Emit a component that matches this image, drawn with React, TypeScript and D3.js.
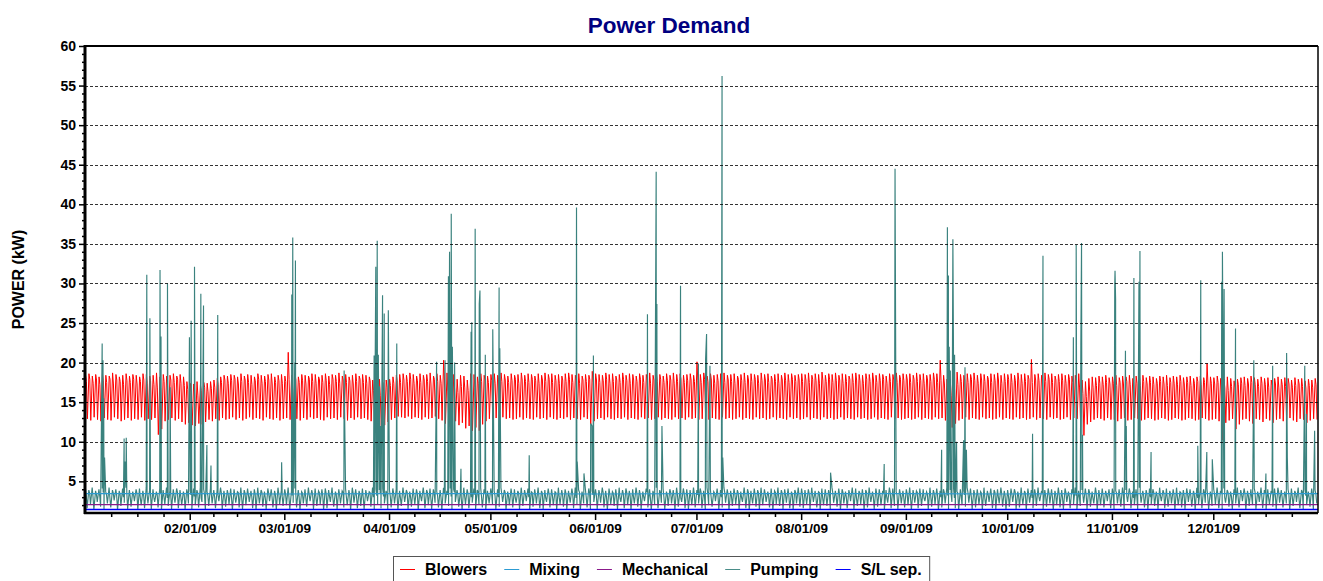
import React, { useEffect, useRef } from 'react';
import * as d3 from 'd3';

// Blowers: daily high / plateau / low readings (kW), Jan 1 2009 .. Dec 31 2009
const blowersHigh = [
  18.4,18.6,18.3,18.5,18.2,18.6,18.4,18.3,18.7,18.5,18.2,18.4,18.6,18.3,18.5,18.4,18.2,18.6,18.5,18.3,18.4,18.7,18.2,18.5,18.3,18.4,18.6,18.3,18.5,18.2,17.6,
  17.4,17.3,17.6,17.2,17.5,17.4,17.6,17.8,18.0,18.2,18.4,18.3,18.5,18.4,18.2,18.6,18.3,18.5,18.4,18.2,18.6,18.4,18.3,18.5,18.6,18.2,18.4,18.5,
  18.3,21.3,18.4,18.6,18.2,18.5,18.4,18.3,18.6,18.5,18.2,18.4,18.6,18.3,18.5,18.4,18.7,18.3,18.5,18.2,18.4,18.6,18.3,18.5,18.4,18.2,17.8,17.6,17.9,17.5,17.8,
  17.9,18.2,18.4,18.5,18.6,18.4,18.7,18.5,18.3,18.6,18.4,18.5,18.7,18.3,18.6,18.4,20.3,18.7,18.2,18.5,17.9,18.4,18.3,17.8,18.6,18.5,18.2,18.6,18.4,18.3,
  18.5,18.6,18.4,18.7,18.5,18.3,18.6,18.4,18.5,18.7,18.4,18.6,18.5,18.3,18.6,18.4,18.7,18.5,18.6,18.4,18.5,18.3,18.6,18.7,18.5,18.4,18.6,18.3,18.5,18.4,18.9,
  18.6,18.5,18.4,18.7,18.5,18.6,18.3,18.5,18.7,18.4,18.6,18.5,18.3,18.6,18.4,18.5,18.7,18.4,18.6,18.5,18.3,18.6,18.4,18.7,18.5,18.6,18.4,18.5,18.6,18.4,
  20.1,18.5,18.7,18.3,18.6,18.4,18.5,18.6,18.7,18.4,18.5,18.6,18.3,18.5,18.7,18.4,18.6,18.5,18.4,18.7,18.5,18.6,18.3,18.5,18.6,18.4,18.7,18.5,18.6,18.4,18.5,
  18.6,18.5,18.7,18.4,18.6,18.5,18.8,18.4,18.6,18.5,18.7,18.4,18.6,18.5,18.3,18.6,18.7,18.5,18.4,18.6,18.5,18.7,18.4,18.6,18.5,18.3,18.6,18.5,18.7,18.4,18.6,
  18.5,18.6,18.4,18.7,18.5,18.6,18.4,18.5,18.7,18.6,20.3,18.4,17.9,17.6,18.2,18.8,18.5,18.4,18.6,18.5,18.7,18.4,18.6,18.5,18.3,18.6,18.5,18.7,18.4,18.6,
  18.5,18.6,18.4,18.7,18.5,18.6,18.4,20.4,18.5,18.6,18.4,18.7,18.5,18.6,18.3,18.5,18.6,18.4,18.5,18.3,18.4,18.6,17.8,17.6,18.0,18.2,18.1,18.3,18.2,18.4,18.1,
  18.2,18.4,18.1,18.3,18.2,18.4,18.0,18.3,18.2,18.4,18.1,18.3,18.2,18.0,18.3,18.2,18.4,18.1,18.3,18.2,18.4,18.1,18.2,18.3,18.0,18.2,18.3,18.1,19.9,18.2,
  18.1,18.3,18.0,17.9,18.2,18.0,17.7,17.9,18.1,18.2,18.0,18.3,18.1,17.9,18.2,18.0,18.1,17.8,18.0,18.2,17.9,18.1,18.0,17.8,18.1,17.9,18.0,17.7,17.9,17.8,18.0,
];

const blowersMid = [
  17.6,17.9,17.4,17.8,17.2,17.7,17.5,17.9,17.3,17.8,17.6,17.2,17.7,17.5,17.9,17.3,17.6,17.8,17.4,17.7,17.2,16.8,16.5,17.6,17.3,17.8,17.5,17.9,17.4,17.1,16.6,
  16.2,16.8,15.9,16.5,16.9,16.3,16.7,16.9,17.2,17.5,17.8,17.4,17.7,17.9,17.3,17.6,17.8,17.5,17.2,17.7,17.9,17.4,17.6,17.8,17.3,17.5,17.7,17.4,
  17.6,17.9,17.4,17.8,17.5,17.7,17.3,17.9,17.6,17.4,17.8,17.5,17.7,17.2,17.9,17.6,17.4,17.8,17.5,17.7,17.3,17.6,17.9,17.5,17.4,17.7,16.5,16.2,15.8,16.4,16.9,
  17.1,17.4,17.7,17.5,17.8,17.6,17.9,17.4,17.7,17.5,17.8,17.6,17.3,17.9,17.6,17.4,17.8,16.4,15.9,16.6,16.2,17.0,16.8,16.5,17.2,16.9,17.4,17.6,17.8,17.5,
  17.7,17.4,17.9,17.6,17.8,17.5,17.7,17.9,17.4,17.8,17.6,17.5,17.9,17.7,17.4,17.8,17.6,17.9,17.5,17.7,17.4,17.8,17.6,17.9,17.5,17.7,17.4,17.8,17.6,17.9,17.5,
  17.8,17.5,17.7,17.9,17.4,17.6,17.8,17.5,17.9,17.7,17.4,17.8,17.6,17.9,17.5,17.7,17.4,17.8,17.6,17.9,17.5,17.7,17.8,17.4,17.6,17.9,17.5,17.7,17.8,17.6,
  17.7,17.5,17.9,17.6,17.8,17.4,17.7,17.9,17.5,17.8,17.6,17.4,17.9,17.7,17.5,17.8,17.6,17.9,17.4,17.7,17.8,17.5,17.9,17.6,17.4,17.8,17.7,17.5,17.9,17.6,17.8,
  17.6,17.8,17.5,17.9,17.7,17.4,17.8,17.6,17.9,17.5,17.7,17.8,17.4,17.6,17.9,17.5,17.8,17.7,17.4,17.9,17.6,17.8,17.5,17.7,17.9,17.4,17.6,17.8,17.5,17.9,17.7,
  17.8,17.5,17.9,17.6,17.7,17.4,17.8,17.6,17.9,17.5,17.7,17.3,16.2,15.8,16.6,17.2,17.6,17.8,17.5,17.9,17.7,17.4,17.8,17.6,17.9,17.5,17.7,17.8,17.4,17.6,
  17.9,17.5,17.7,17.8,17.4,17.6,17.9,17.5,17.8,17.7,17.4,17.6,17.9,17.5,17.8,17.6,17.7,17.4,17.9,17.5,17.2,16.8,16.1,15.7,16.4,16.9,17.1,17.4,17.2,17.5,17.3,
  17.4,17.1,17.5,17.3,17.6,17.2,17.5,17.4,17.1,17.6,17.3,17.5,17.2,17.4,17.6,17.3,17.1,17.5,17.4,17.2,17.6,17.3,17.5,17.1,17.4,17.6,17.2,17.5,17.3,17.4,
  17.3,17.5,17.1,16.8,16.5,17.0,16.8,17.2,17.4,17.1,17.3,17.5,17.2,17.0,17.4,17.2,16.9,17.1,17.3,16.8,17.2,17.0,17.3,16.9,17.1,17.3,17.0,16.8,17.1,16.9,17.2,
];

const blowersLow = [
  12.9,12.7,13.1,12.8,12.6,13.0,12.8,12.7,13.1,12.9,12.6,12.8,13.0,12.7,12.9,12.8,13.1,12.7,12.9,12.8,13.0,10.9,11.6,12.6,12.8,13.0,12.7,12.9,12.5,12.2,12.4,
  12.1,12.0,12.3,12.2,12.5,12.8,12.6,12.9,12.7,13.0,12.8,12.9,13.1,12.8,13.0,12.7,12.9,13.1,12.8,13.0,12.9,12.7,13.1,12.9,12.8,13.0,12.7,12.9,
  13.0,12.8,13.1,12.9,12.7,13.0,12.8,13.1,12.9,13.0,12.8,12.7,13.1,12.9,13.0,12.8,13.1,12.9,12.7,13.0,12.8,13.1,12.9,13.0,12.8,12.6,12.2,12.4,12.0,12.1,12.5,
  12.8,13.0,13.2,13.1,13.0,13.2,12.9,13.1,13.0,12.8,13.1,12.9,13.0,13.2,12.9,12.7,12.3,11.9,12.2,12.6,12.1,12.4,11.7,12.0,11.4,11.8,11.4,12.2,12.6,12.9,
  12.9,13.0,12.8,13.1,12.9,13.0,12.8,12.9,13.1,12.8,13.0,12.9,12.8,13.1,12.9,13.0,12.8,13.1,12.9,12.8,13.0,12.9,13.1,12.8,13.0,12.9,12.8,13.1,12.9,12.2,12.6,
  12.9,13.0,12.8,13.1,12.9,12.8,13.0,12.9,13.1,12.8,13.0,12.9,12.8,13.1,12.9,13.0,12.8,12.9,13.1,12.8,13.0,12.9,12.8,13.1,12.9,13.0,12.8,13.1,12.9,13.0,
  12.8,12.9,13.1,12.8,13.0,12.9,12.8,13.1,12.9,13.0,12.8,12.9,13.1,12.8,13.0,12.9,12.8,13.1,12.9,13.0,12.8,12.9,13.1,12.8,13.0,12.9,12.8,13.1,12.9,13.0,12.8,
  12.9,13.1,12.8,13.0,12.9,12.8,13.1,12.9,13.0,12.8,12.9,13.1,12.8,13.0,12.9,12.8,13.1,12.9,13.0,12.8,12.9,13.1,12.8,13.0,12.9,12.8,13.1,12.9,13.0,12.8,12.9,
  13.0,12.8,12.9,13.1,12.8,13.0,12.9,12.8,13.1,12.9,13.0,12.7,12.0,11.8,12.3,12.7,12.9,13.1,12.8,13.0,12.9,12.8,13.1,12.9,13.0,12.8,12.9,13.1,12.8,13.0,
  12.9,12.8,13.1,12.9,13.0,12.8,12.9,13.1,12.8,13.0,12.9,12.8,13.1,12.9,13.0,12.8,12.9,13.1,12.8,13.0,12.9,12.6,10.8,12.2,12.5,12.8,13.0,12.9,12.7,13.0,12.8,
  12.8,12.6,12.9,13.0,12.7,12.8,13.0,12.9,12.7,12.8,13.0,12.9,12.7,12.8,13.0,12.9,12.7,12.8,13.0,12.9,12.7,12.8,13.0,12.9,12.7,12.8,13.0,12.9,12.7,12.8,
  12.9,12.6,10.2,12.4,12.7,12.9,11.6,12.2,12.8,12.9,12.6,12.3,12.9,12.8,12.5,12.9,12.7,12.4,12.8,12.9,12.6,12.8,13.0,12.7,12.5,12.9,12.8,12.4,12.7,12.9,12.8,
];

// Pumping: daily baseline high / mid / low readings (kW)
const pumpHigh = [
  4.1,3.9,4.2,3.8,4.0,4.1,3.7,4.2,3.9,4.0,3.8,4.1,4.2,3.9,3.7,4.0,4.1,3.8,4.2,3.9,4.0,3.7,4.1,3.9,4.2,3.8,4.0,4.1,3.9,3.7,4.0,
  3.8,4.1,3.9,4.2,4.0,3.7,4.1,3.9,4.0,4.2,3.8,3.9,4.1,4.0,3.7,4.2,3.9,4.1,3.8,4.0,4.2,3.9,3.7,4.1,4.0,3.8,4.2,3.9,
  4.0,4.2,3.8,4.1,3.9,3.7,4.0,4.2,3.9,4.1,3.8,4.0,4.1,3.9,4.2,3.7,4.0,3.8,4.1,3.9,4.2,4.0,3.8,4.1,3.9,3.7,4.2,4.0,3.9,4.1,3.8,
  3.9,4.1,4.0,3.8,4.2,3.9,3.7,4.1,4.0,3.8,4.2,3.9,4.1,4.0,3.7,3.9,4.2,3.8,4.1,4.0,3.9,3.7,4.2,4.0,3.8,4.1,3.9,4.2,4.0,3.8,
  4.1,3.8,4.0,4.2,3.9,3.7,4.1,4.0,3.8,4.2,3.9,4.1,3.7,4.0,4.2,3.8,3.9,4.1,4.0,3.7,4.2,3.9,4.0,3.8,4.1,4.2,3.9,3.7,4.0,4.1,3.8,
  4.0,3.9,4.2,3.8,4.1,3.7,4.0,4.2,3.9,4.1,3.8,4.0,4.2,3.9,3.7,4.1,4.0,3.8,4.2,3.9,4.1,3.7,4.0,3.9,4.2,3.8,4.1,4.0,3.9,4.2,
  3.9,4.1,3.8,4.2,4.0,3.7,4.1,3.9,4.2,4.0,3.8,4.1,3.9,3.7,4.2,4.0,3.8,4.1,3.9,4.2,4.0,3.7,4.1,3.8,4.2,3.9,4.0,4.1,3.7,3.9,4.2,
  4.1,3.9,4.0,4.2,3.8,3.7,4.1,4.0,3.9,4.2,3.8,4.1,4.0,3.7,3.9,4.2,4.1,3.8,4.0,3.9,4.2,3.7,4.1,4.0,3.8,3.9,4.2,4.1,3.7,4.0,3.8,
  4.0,4.2,3.9,3.8,4.1,4.0,3.7,4.2,3.9,4.1,3.8,4.0,4.2,3.9,4.1,3.7,4.0,3.8,4.2,4.1,3.9,4.0,3.7,4.2,3.8,4.1,3.9,4.0,4.2,3.8,
  3.9,4.1,4.0,3.7,4.2,3.8,4.1,3.9,4.0,4.2,3.7,3.9,4.1,4.0,3.8,4.2,3.9,4.1,3.7,4.0,4.2,3.8,3.9,4.1,4.0,3.7,4.2,3.9,4.1,3.8,4.0,
  4.1,3.8,4.0,4.2,3.9,4.1,3.7,4.0,4.2,3.8,3.9,4.1,4.0,3.7,4.2,3.9,4.1,3.8,4.0,4.2,3.7,3.9,4.1,4.0,3.8,4.2,3.9,4.0,4.1,3.7,
  4.0,4.2,3.8,4.1,3.9,3.7,4.0,4.2,3.9,4.1,3.8,4.0,4.1,3.7,4.2,3.9,4.0,3.8,4.1,4.2,3.9,3.7,4.0,4.1,3.8,4.2,3.9,4.0,3.7,4.1,3.9,
];

const pumpMid = [
  3.2,3.5,3.0,3.4,3.1,3.6,3.3,2.9,3.5,3.2,3.4,3.0,3.6,3.1,3.3,3.5,2.9,3.2,3.4,3.6,3.0,3.3,3.5,3.1,2.9,3.4,3.2,3.6,3.0,3.3,3.5,
  3.3,3.1,3.5,2.9,3.4,3.2,3.6,3.0,3.3,3.5,3.1,3.4,2.9,3.2,3.6,3.0,3.5,3.3,3.1,3.4,3.2,3.6,2.9,3.5,3.0,3.3,3.4,3.1,
  3.4,3.0,3.2,3.6,3.1,3.5,2.9,3.3,3.4,3.0,3.6,3.2,3.5,3.1,2.9,3.4,3.3,3.6,3.0,3.2,3.5,3.1,3.4,2.9,3.3,3.6,3.0,3.2,3.5,3.1,3.4,
  3.1,3.5,3.3,2.9,3.4,3.6,3.0,3.2,3.5,3.1,3.3,3.6,2.9,3.4,3.2,3.0,3.5,3.3,3.1,3.6,3.4,2.9,3.2,3.5,3.0,3.3,3.6,3.1,3.4,3.2,
  3.5,3.2,3.0,3.4,3.6,3.1,3.3,2.9,3.5,3.2,3.4,3.0,3.6,3.3,3.1,3.5,2.9,3.4,3.2,3.6,3.0,3.3,3.5,3.1,3.4,2.9,3.6,3.2,3.0,3.5,3.3,
  3.2,3.4,3.6,3.0,3.3,3.5,3.1,2.9,3.4,3.6,3.2,3.0,3.5,3.3,3.1,3.6,2.9,3.4,3.2,3.5,3.0,3.3,3.6,3.1,3.4,2.9,3.5,3.2,3.0,3.4,
  3.3,3.6,3.1,3.4,2.9,3.5,3.2,3.0,3.6,3.3,3.1,3.4,3.5,2.9,3.2,3.6,3.0,3.3,3.5,3.1,3.4,3.2,2.9,3.6,3.0,3.5,3.3,3.1,3.4,3.6,3.2,
  3.4,3.1,3.5,3.3,3.0,3.6,2.9,3.2,3.4,3.5,3.1,3.3,3.6,3.0,3.4,3.2,2.9,3.5,3.1,3.6,3.3,3.0,3.4,3.2,3.5,2.9,3.6,3.1,3.3,3.4,3.0,
  3.5,3.0,3.3,3.6,3.2,2.9,3.4,3.1,3.5,3.3,3.0,3.6,3.2,3.4,2.9,3.5,3.1,3.3,3.6,3.0,3.4,3.2,3.5,2.9,3.3,3.1,3.6,3.0,3.4,3.2,
  3.1,3.4,3.6,3.2,3.0,3.5,3.3,2.9,3.4,3.1,3.6,3.2,3.5,3.0,3.3,3.4,2.9,3.6,3.1,3.5,3.2,3.0,3.4,3.3,3.6,2.9,3.5,3.1,3.2,3.4,3.0,
  3.3,3.5,3.0,3.4,3.2,3.6,2.9,3.1,3.5,3.3,3.4,3.0,3.6,3.2,3.1,3.5,2.9,3.4,3.3,3.0,3.6,3.2,3.5,3.1,3.4,2.9,3.3,3.6,3.0,3.2,
  3.4,3.2,3.5,3.0,3.6,3.1,3.3,2.9,3.4,3.5,3.2,3.0,3.6,3.3,3.1,3.4,2.9,3.5,3.2,3.6,3.0,3.3,3.4,3.1,3.5,2.9,3.6,3.2,3.0,3.3,3.4,
];

const pumpLow = [
  1.6,2.1,1.4,2.4,1.8,1.5,2.2,1.7,2.6,1.4,1.9,2.3,1.5,1.8,2.5,1.4,2.0,1.6,2.2,1.5,2.4,1.7,1.4,2.1,1.9,1.5,2.3,1.6,2.0,1.4,2.2,
  1.5,2.0,1.7,2.4,1.4,1.9,2.2,1.6,2.5,1.5,1.8,2.1,1.4,2.3,1.7,1.5,2.0,2.4,1.6,1.4,2.2,1.8,1.5,2.5,1.7,1.4,2.1,1.9,
  2.0,1.5,2.3,1.7,1.4,2.2,1.8,2.5,1.5,1.9,2.1,1.4,1.6,2.4,1.8,1.5,2.2,1.7,2.0,1.4,2.3,1.6,1.9,1.5,2.5,1.8,1.4,2.1,1.6,2.2,1.5,
  1.7,2.2,1.4,1.9,2.4,1.5,1.8,2.1,1.4,2.5,1.6,2.0,1.5,2.3,1.7,1.4,2.2,1.9,1.5,2.4,1.8,1.4,2.1,1.6,2.3,1.5,2.0,1.7,1.4,2.2,
  2.1,1.5,1.8,2.4,1.4,2.0,1.7,2.3,1.5,1.9,2.5,1.4,1.8,2.2,1.6,1.5,2.4,1.7,2.0,1.4,2.1,1.8,1.5,2.3,1.6,2.0,1.4,2.2,1.7,1.5,2.4,
  1.5,2.3,1.7,1.4,2.1,1.9,1.5,2.4,1.6,2.0,1.4,2.2,1.8,1.5,2.5,1.7,1.4,2.1,1.6,2.3,1.5,1.9,2.2,1.4,1.8,2.4,1.6,1.5,2.0,1.7,
  2.2,1.6,1.4,2.0,1.8,2.5,1.5,1.7,2.3,1.4,1.9,2.1,1.5,2.4,1.6,1.4,2.2,1.8,1.5,2.0,2.4,1.7,1.4,2.1,1.9,1.5,2.3,1.6,1.4,2.2,1.8,
  1.6,2.1,1.5,2.4,1.7,1.4,2.0,1.9,1.5,2.3,1.8,1.4,2.2,1.6,2.5,1.5,1.9,2.1,1.4,1.7,2.4,1.5,1.8,2.0,1.4,2.3,1.6,1.9,1.5,2.2,1.7,
  2.0,1.4,2.3,1.6,1.9,2.5,1.5,1.8,2.1,1.4,1.7,2.2,1.5,2.4,1.6,1.4,2.0,1.8,2.3,1.5,1.7,2.1,1.4,1.9,2.4,1.6,1.5,2.2,1.8,1.4,
  1.8,2.4,1.5,1.7,2.1,1.4,2.3,1.6,1.9,2.5,1.5,1.8,2.2,1.4,2.0,1.7,1.5,2.4,1.6,2.1,1.4,1.9,2.3,1.5,1.8,2.2,1.4,2.0,1.7,2.5,1.6,
  1.5,2.2,1.8,1.4,2.4,1.6,2.0,1.5,2.3,1.7,1.4,2.1,1.9,1.5,2.5,1.6,1.8,2.2,1.4,2.0,1.7,1.5,2.4,1.8,1.4,2.1,1.6,2.3,1.5,1.9,
  2.1,1.6,1.4,2.3,1.8,1.5,2.2,1.7,2.5,1.4,1.9,2.0,1.5,2.4,1.6,1.4,2.1,1.8,1.5,2.3,1.7,2.2,1.4,1.9,2.4,1.6,1.5,2.0,1.8,1.4,2.2,
];

// Pumping peaks (time, kW)
const pumpSpikes: [string, number][] = [
  ["2009-01-06T02:00", 22.4], ["2009-01-06T08:00", 20.3], ["2009-01-06T13:00", 15.5], ["2009-01-06T19:00", 8.0],
  ["2009-01-12T14:00", 10.4], ["2009-01-12T20:00", 7.5], ["2009-01-13T05:00", 10.5],
  ["2009-01-19T07:00", 31.1], ["2009-01-20T05:00", 25.6],
  ["2009-01-23T05:00", 31.7], ["2009-01-23T12:00", 23.3],
  ["2009-01-25T10:00", 30.0], ["2009-01-26T05:00", 16.9],
  ["2009-01-31T22:00", 23.2], ["2009-02-01T10:00", 25.3],
  ["2009-02-02T10:00", 32.1],
  ["2009-02-04T07:00", 28.7],
  ["2009-02-05T02:00", 27.2],
  ["2009-02-06T02:00", 9.6], ["2009-02-07T07:00", 7.0],
  ["2009-02-09T07:00", 26.0],
  ["2009-02-28T05:00", 7.4],
  ["2009-03-03T05:00", 28.6], ["2009-03-03T12:00", 35.8], ["2009-03-04T02:00", 20.0], ["2009-03-04T07:00", 32.9],
  ["2009-03-18T17:00", 19.0],
  ["2009-03-27T14:00", 20.9], ["2009-03-28T02:00", 32.1], ["2009-03-28T12:00", 35.4], ["2009-03-28T20:00", 21.0],
  ["2009-03-29T04:00", 17.0], ["2009-03-29T12:00", 12.0], ["2009-03-30T02:00", 28.5], ["2009-03-30T14:00", 26.2],
  ["2009-03-31T19:00", 26.6],
  ["2009-04-03T07:00", 22.4],
  ["2009-04-15T02:00", 20.1],
  ["2009-04-17T14:00", 20.3],
  ["2009-04-18T14:00", 30.9], ["2009-04-18T22:00", 34.0], ["2009-04-19T03:00", 25.0], ["2009-04-19T10:00", 38.8],
  ["2009-04-19T18:00", 22.0], ["2009-04-20T10:00", 20.0],
  ["2009-04-22T07:00", 6.6],
  ["2009-04-25T07:00", 23.9], ["2009-04-25T12:00", 25.1],
  ["2009-04-26T12:00", 36.9],
  ["2009-04-27T17:00", 27.4], ["2009-04-27T22:00", 29.1],
  ["2009-04-29T12:00", 21.0],
  ["2009-05-01T17:00", 24.2],
  ["2009-05-03T14:00", 29.5], ["2009-05-03T19:00", 21.8],
  ["2009-05-12T12:00", 8.3],
  ["2009-05-26T12:00", 39.6], ["2009-05-26T17:00", 7.5],
  ["2009-05-28T17:00", 6.0],
  ["2009-05-30T17:00", 12.3], ["2009-05-31T02:00", 12.0], ["2009-05-31T12:00", 20.9],
  ["2009-06-16T12:00", 26.1],
  ["2009-06-19T02:00", 44.1], ["2009-06-19T07:00", 27.4],
  ["2009-06-20T19:00", 12.0],
  ["2009-06-26T07:00", 29.7],
  ["2009-07-01T14:00", 19.9],
  ["2009-07-03T17:00", 20.4], ["2009-07-04T00:00", 23.6], ["2009-07-05T00:00", 19.6],
  ["2009-07-08T14:00", 56.2], ["2009-07-08T19:00", 8.0],
  ["2009-08-09T17:00", 6.1],
  ["2009-08-25T14:00", 7.2],
  ["2009-08-28T19:00", 44.5],
  ["2009-09-11T14:00", 9.0],
  ["2009-09-13T07:00", 37.1], ["2009-09-13T14:00", 31.0], ["2009-09-13T20:00", 22.0], ["2009-09-14T04:00", 19.0],
  ["2009-09-14T22:00", 35.6], ["2009-09-15T02:00", 22.0], ["2009-09-15T10:00", 21.0], ["2009-09-16T00:00", 10.0],
  ["2009-09-18T02:00", 10.2], ["2009-09-18T12:00", 19.4], ["2009-09-18T22:00", 9.0],
  ["2009-10-08T12:00", 11.0],
  ["2009-10-11T14:00", 33.5],
  ["2009-10-20T14:00", 23.2], ["2009-10-21T10:00", 34.9], ["2009-10-22T19:00", 22.2], ["2009-10-23T00:00", 35.1],
  ["2009-10-23T07:00", 10.9],
  ["2009-11-01T20:00", 30.0], ["2009-11-01T22:00", 31.6], ["2009-11-02T02:00", 28.0],
  ["2009-11-05T00:00", 21.5], ["2009-11-05T06:00", 12.0],
  ["2009-11-07T12:00", 30.7],
  ["2009-11-09T00:00", 30.2], ["2009-11-09T07:00", 34.1],
  ["2009-11-12T14:00", 8.7],
  ["2009-11-26T10:00", 9.5],
  ["2009-11-27T07:00", 30.4],
  ["2009-11-29T02:00", 8.7],
  ["2009-11-30T17:00", 7.8],
  ["2009-12-03T12:00", 30.2], ["2009-12-03T17:00", 34.0], ["2009-12-04T05:00", 29.3],
  ["2009-12-07T14:00", 24.3],
  ["2009-12-13T00:00", 20.3],
  ["2009-12-16T14:00", 6.0],
  ["2009-12-18T14:00", 19.6],
  ["2009-12-22T17:00", 21.2], ["2009-12-22T22:00", 8.0],
  ["2009-12-28T02:00", 19.6], ["2009-12-28T14:00", 13.5],
  ["2009-12-31T00:00", 11.4],
];

// Flat loads, one reading at each month boundary (Jan 1 2009 .. Jan 1 2010)
const mixingValues = [3.45, 3.45, 3.4, 3.45, 3.45, 3.4, 3.45, 3.45, 3.45, 3.4, 3.45, 3.45, 3.45];
const mechanicalValues = [2.05, 2.05, 2.05, 2.05, 2.05, 2.05, 2.05, 2.05, 2.05, 2.05, 2.05, 2.05, 2.05];
const slSepValues = [1.45, 1.45, 1.45, 1.45, 1.45, 1.45, 1.45, 1.45, 1.45, 1.45, 1.45, 1.45, 1.45];

const yTickValues = [5, 10, 15, 20, 25, 30, 35, 40, 45, 50, 55, 60];
const gridValues = [5, 10, 15, 20, 25, 30, 35, 40, 45, 50, 55];

const legendItems = [
  { name: 'Blowers', color: '#ff0000' },
  { name: 'Mixing', color: '#2c9bd3' },
  { name: 'Mechanical', color: '#8b1a8b' },
  { name: 'Pumping', color: '#4a8d89' },
  { name: 'S/L sep.', color: '#0000ff' },
];

type Pt = { t: Date; v: number };

const FONT = "Arial, 'Liberation Sans', Helvetica, sans-serif";

const App = () => {
  const svgRef = useRef<SVGSVGElement>(null);

  useEffect(() => {
    const svg = d3.select(svgRef.current);
    svg.selectAll('*').remove();

    const width = 1323;
    const height = 581;
    const margin = { top: 46, right: 5, bottom: 68, left: 85 };
    const innerW = width - margin.left - margin.right;
    const innerH = height - margin.top - margin.bottom;

    const start = new Date(2009, 0, 1);
    const end = new Date(2010, 0, 1);

    const x = d3.scaleTime().domain([start, end]).range([0, innerW]);
    const y = d3.scaleLinear().domain([1, 60]).range([innerH, 0]);

    // build series
    const blowers: Pt[] = [];
    blowersHigh.forEach((h, i) => {
      const day = d3.timeDay.offset(start, i);
      blowers.push({ t: d3.timeHour.offset(day, 4), v: h });
      blowers.push({ t: d3.timeHour.offset(day, 10), v: blowersMid[i] });
      blowers.push({ t: d3.timeHour.offset(day, 17), v: blowersLow[i] });
    });

    const parse = d3.timeParse('%Y-%m-%dT%H:%M');
    const pumping: Pt[] = [];
    pumpHigh.forEach((h, i) => {
      const day = d3.timeDay.offset(start, i);
      pumping.push({ t: d3.timeHour.offset(day, 3), v: h });
      pumping.push({ t: d3.timeHour.offset(day, 9), v: pumpMid[i] });
      pumping.push({ t: d3.timeHour.offset(day, 15), v: pumpLow[i] });
    });
    pumpSpikes.forEach(([s, v]) => pumping.push({ t: parse(s) as Date, v }));
    pumping.sort((a, b) => +a.t - +b.t);

    const monthDates = d3.timeMonth.range(start, d3.timeDay.offset(end, 1));
    const flat = (vals: number[]): Pt[] => vals.map((v, i) => ({ t: monthDates[i], v }));

    const root = svg.append('g').attr('transform', `translate(${margin.left},${margin.top})`);

    svg.append('defs').append('clipPath').attr('id', 'plot-clip')
      .append('rect').attr('width', innerW).attr('height', innerH);

    const line = d3.line<Pt>().x(d => x(d.t)).y(d => y(d.v));

    const plot = root.append('g').attr('clip-path', 'url(#plot-clip)');

    plot.append('path').datum(blowers)
      .attr('d', line).attr('fill', 'none').attr('stroke', '#ff0000').attr('stroke-width', 1);
    plot.append('path').datum(pumping)
      .attr('d', line).attr('fill', 'none').attr('stroke', '#3a827e').attr('stroke-width', 1.15);
    plot.append('path').datum(flat(mixingValues))
      .attr('d', line).attr('fill', 'none').attr('stroke', '#2c9bd3').attr('stroke-width', 1.2);
    plot.append('path').datum(flat(mechanicalValues))
      .attr('d', line).attr('fill', 'none').attr('stroke', '#8b1a8b').attr('stroke-width', 1.2);
    plot.append('path').datum(flat(slSepValues))
      .attr('d', line).attr('fill', 'none').attr('stroke', '#0000ff').attr('stroke-width', 1.5);

    // dashed horizontal grid
    root.append('g').selectAll('line').data(gridValues).join('line')
      .attr('x1', 0).attr('x2', innerW)
      .attr('y1', d => Math.round(y(d)) + 0.5).attr('y2', d => Math.round(y(d)) + 0.5)
      .attr('stroke', '#000').attr('stroke-opacity', 0.8)
      .attr('stroke-dasharray', '3,2').attr('stroke-width', 1);

    // y axis
    const yMinor = d3.range(2, 60).filter(v => v % 5 !== 0);
    root.append('g')
      .call(d3.axisLeft(y).tickValues(yMinor).tickSize(3).tickSizeOuter(0).tickFormat(() => ''))
      .call(g => g.select('.domain').remove())
      .selectAll('line').attr('stroke-width', 1.5);

    const yAxisG = root.append('g')
      .call(d3.axisLeft(y).tickValues(yTickValues).tickSize(6).tickPadding(3).tickSizeOuter(0));
    yAxisG.select('.domain').remove();
    yAxisG.selectAll('line').attr('stroke-width', 1.5);
    yAxisG.selectAll('text')
      .attr('font-family', FONT).attr('font-size', 14).attr('font-weight', 'bold').attr('fill', '#000');

    // x axis: month ticks + quarter-month minor ticks
    const labelMonths = d3.timeMonth.range(new Date(2009, 1, 1), end);
    const minorDates: Date[] = [];
    d3.timeMonth.range(start, end).forEach(m => {
      const next = d3.timeMonth.offset(m, 1);
      for (let k = 1; k < 4; k++) minorDates.push(new Date(+m + (k * (+next - +m)) / 4));
    });

    root.append('g').attr('transform', `translate(0,${innerH})`)
      .call(d3.axisBottom(x).tickValues(minorDates).tickSize(4).tickSizeOuter(0).tickFormat(() => ''))
      .call(g => g.select('.domain').remove())
      .selectAll('line').attr('stroke-width', 1.5);

    const xAxisG = root.append('g').attr('transform', `translate(0,${innerH})`)
      .call(d3.axisBottom(x).tickValues(labelMonths).tickSize(7).tickPadding(3).tickSizeOuter(0)
        .tickFormat(d => d3.timeFormat('%m/%d/%y')(d as Date)));
    xAxisG.select('.domain').remove();
    xAxisG.selectAll('line').attr('stroke-width', 1.5);
    xAxisG.selectAll('text')
      .attr('font-family', FONT).attr('font-size', 13.5).attr('font-weight', 'bold').attr('fill', '#000');

    // frame
    root.append('line').attr('x1', 0).attr('x2', innerW).attr('y1', 0).attr('y2', 0)
      .attr('stroke', '#000').attr('stroke-width', 2);
    root.append('line').attr('x1', innerW).attr('x2', innerW).attr('y1', 0).attr('y2', innerH)
      .attr('stroke', '#000').attr('stroke-width', 1.5);
    root.append('line').attr('x1', 0).attr('x2', 0).attr('y1', -1).attr('y2', innerH + 1)
      .attr('stroke', '#000').attr('stroke-width', 3);
    root.append('line').attr('x1', -1).attr('x2', innerW).attr('y1', innerH).attr('y2', innerH)
      .attr('stroke', '#000').attr('stroke-width', 2.5);

    // title
    svg.append('text')
      .attr('x', 669).attr('y', 33)
      .attr('text-anchor', 'middle')
      .attr('font-family', FONT).attr('font-size', 22.5).attr('font-weight', 'bold')
      .attr('fill', '#000080')
      .text('Power Demand');

    // y label
    svg.append('text')
      .attr('transform', `translate(24,${margin.top + innerH / 2}) rotate(-90)`)
      .attr('text-anchor', 'middle')
      .attr('font-family', FONT).attr('font-size', 16).attr('font-weight', 'bold')
      .attr('fill', '#000')
      .text('POWER (kW)');

    // legend
    const legend = svg.append('g');
    const box = legend.append('rect')
      .attr('x', 393.5).attr('y', 556.5).attr('height', 40)
      .attr('fill', '#fff').attr('stroke', '#555').attr('stroke-width', 1);
    let cx = 400;
    legendItems.forEach(item => {
      legend.append('line')
        .attr('x1', cx).attr('x2', cx + 15).attr('y1', 569.5).attr('y2', 569.5)
        .attr('stroke', item.color).attr('stroke-width', 1);
      const t = legend.append('text')
        .attr('x', cx + 25).attr('y', 575)
        .attr('font-family', FONT).attr('font-size', 16).attr('font-weight', 'bold')
        .attr('fill', '#000')
        .text(item.name);
      const w = (t.node() as SVGTextElement).getComputedTextLength();
      cx += 25 + w + 17;
    });
    box.attr('width', cx - 17 + 8 - 393.5);
  }, []);

  return (
    <svg
      ref={svgRef}
      width={1323}
      height={581}
      style={{ position: 'absolute', left: 0, top: 0, display: 'block', background: '#fff' }}
    />
  );
};

export default App;
